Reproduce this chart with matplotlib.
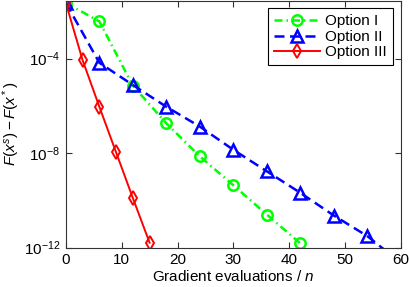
import numpy as np
import matplotlib
matplotlib.use("Agg")
import matplotlib.pyplot as plt

plt.rcParams['font.family'] = ['Liberation Sans', 'DejaVu Sans']
plt.rcParams['mathtext.fontset'] = 'custom'
plt.rcParams['mathtext.it'] = 'Liberation Sans:italic'
plt.rcParams['mathtext.rm'] = 'Liberation Sans'

# data (log10 of F(x^s) - F(x^*))
x_opt1 = [0, 6, 12, 18, 24, 30, 36, 42]
logy_opt1 = [-1.65, -2.43, -5.15, -6.74, -8.14, -9.36, -10.6, -11.82]
x_opt2 = [0, 6, 12, 18, 24, 30, 36, 42, 48, 54, 60]
logy_opt2 = [-1.65, -4.18, -5.12, -6.04, -6.88, -7.86, -8.77, -9.68, -10.64, -11.51, -12.64]
x_opt3 = [0, 3, 6, 9, 12, 15]
logy_opt3 = [-1.65, -4.07, -6.04, -7.97, -9.9, -11.79]
labels = ['Option I', 'Option II', 'Option III']
xticks = [0, 10, 20, 30, 40, 50, 60]
yticks = [1e-12, 1e-8, 1e-4]

fig = plt.figure(figsize=(4.09, 2.87), dpi=100)
ax = fig.add_axes([0.161, 0.137, 0.819, 0.861])

ax.plot(x_opt1, 10.0**np.array(logy_opt1), color=(0, 1, 0), lw=1.8,
        dashes=(3.2, 1.6, 0.6, 1.6),
        marker='o', ms=7.5, mfc='none', mew=1.8, label=labels[0])
ax.plot(x_opt2, 10.0**np.array(logy_opt2), color=(0, 0, 1), lw=1.8,
        dashes=(4, 2.2),
        marker='^', ms=8.5, mfc='none', mew=1.8, label=labels[1])
ax.plot(x_opt3, 10.0**np.array(logy_opt3), color=(1, 0, 0), ls='-', lw=1.4,
        marker='d', ms=7.5, mfc='none', mew=1.4, label=labels[2])

ax.set_yscale('log')
ax.set_xlim(0, 60)
ax.set_ylim(1e-12, 10**-1.55)
ax.set_xticks(xticks)
ax.set_yticks(yticks)
ax.yaxis.set_minor_locator(matplotlib.ticker.NullLocator())
ax.tick_params(direction='in', top=True, right=True, labelsize=11, length=4,
               color='#333333', pad=4)
for s in ax.spines.values():
    s.set_color('#333333')
    s.set_linewidth(0.8)

ax.set_xlabel('Gradient evaluations / $n$', fontsize=11, labelpad=1)
ax.set_ylabel('$F(x^s) - F(x^*)$', fontsize=11)
ax.yaxis.set_label_coords(-0.13, 0.5)

leg = ax.legend(loc='upper right', fontsize=11, fancybox=False, edgecolor='black',
                framealpha=1, borderpad=0.4, labelspacing=0.1, handlelength=3.0,
                handletextpad=0.35, borderaxespad=0.5)
leg.get_frame().set_linewidth(0.8)

fig.savefig('out.png', dpi=100)
